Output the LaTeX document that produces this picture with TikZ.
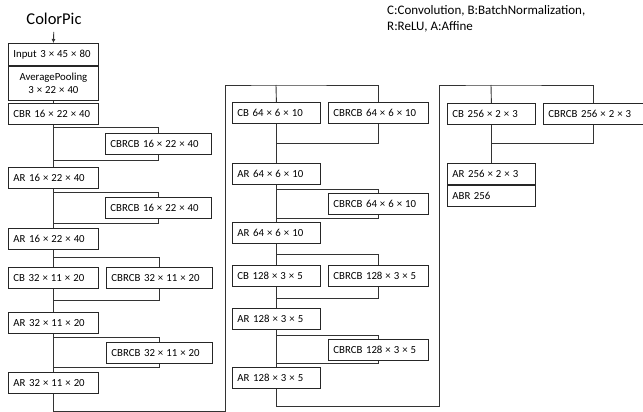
\documentclass[tikz,border=0pt]{standalone}
\usepackage{fontspec}
\setmainfont{Carlito}
\usetikzlibrary{arrows.meta}

\newcommand{\byx}{\kern3pt×\kern3pt}

\tikzset{
  block/.style={draw=black!85,line width=0.8pt,anchor=north west,align=left,
    inner xsep=5pt,inner ysep=0pt,minimum height=21pt,
    font=\fontsize{10.8}{12.5}\selectfont},
  mainblock/.style={block,text width=80pt},
  sideblock/.style={block,text width=96pt},
  wire/.style={draw=black!80,line width=0.9pt}
}

\begin{document}
\begin{tikzpicture}[x=1pt,y=-1pt]
  \useasboundingbox (0,0) rectangle (643,412);

  % title and legend
  \node[font=\fontsize{16.5}{20}\selectfont,inner sep=1pt] (title) at (54,19) {ColorPic};
  \node[anchor=north west,align=left,inner sep=0pt,
    font=\fontsize{13}{15.7}\selectfont] (legend) at (387,5.5)
    {C:Convolution, B:BatchNormalization,\\R:ReLU, A:Affine};

  % first column
  \node[mainblock,minimum height=22pt] (inp) at (8,43) {Input 3\byx45\byx80};
  \node[mainblock,align=center,minimum height=34pt] (pool) at (inp.south west)
    {AveragePooling\\3\byx22\byx40};
  \node[mainblock] (cbr1) at (8,103) {CBR 16\byx22\byx40};
  \node[sideblock] (cbrcb1) at (105,133) {CBRCB 16\byx22\byx40};
  \node[mainblock] (ar1) at (8,167) {AR 16\byx22\byx40};
  \node[sideblock] (cbrcb2) at (105,197) {CBRCB 16\byx22\byx40};
  \node[mainblock] (ar2) at (8,228) {AR 16\byx22\byx40};
  \node[mainblock] (cb32) at (8,267) {CB 32\byx11\byx20};
  \node[sideblock] (cbrcb3) at (106,267) {CBRCB 32\byx11\byx20};
  \node[mainblock] (ar3) at (8,312) {AR 32\byx11\byx20};
  \node[sideblock] (cbrcb4) at (106,342) {CBRCB 32\byx11\byx20};
  \node[mainblock] (ar4) at (8,372) {AR 32\byx11\byx20};

  \begin{scope}[mainblock/.append style={text width=78pt},
                sideblock/.append style={text width=90pt}]
    % second column
    \node[mainblock] (cb64) at (232,102) {CB 64\byx6\byx10};
    \node[sideblock] (cbrcb5) at (328,102) {CBRCB 64\byx6\byx10};
    \node[mainblock] (ar5) at (232,163) {AR 64\byx6\byx10};
    \node[sideblock] (cbrcb6) at (328,193) {CBRCB 64\byx6\byx10};
    \node[mainblock] (ar6) at (232,222) {AR 64\byx6\byx10};
    \node[mainblock] (cb128) at (232,265) {CB 128\byx3\byx5};
    \node[sideblock] (cbrcb7) at (328,265) {CBRCB 128\byx3\byx5};
    \node[mainblock] (ar7) at (232,308) {AR 128\byx3\byx5};
    \node[sideblock] (cbrcb8) at (328,339) {CBRCB 128\byx3\byx5};
    \node[mainblock] (ar8) at (232,367) {AR 128\byx3\byx5};
    % third column
    \node[mainblock] (cb256) at (447,103) {CB 256\byx2\byx3};
    \node[sideblock] (cbrcb9) at (543,103) {CBRCB 256\byx2\byx3};
    \node[mainblock] (ar9) at (447,163) {AR 256\byx2\byx3};
    \node[mainblock] (abr) at (ar9.south west) {ABR 256};
  \end{scope}

  % split and join points on the skip lines
  \coordinate (b1) at (53,127);  \coordinate (m1) at (53,160);
  \coordinate (b2) at (53,192);  \coordinate (m2) at (53,223);
  \coordinate (b3) at (53,257);  \coordinate (m3) at (53,300);
  \coordinate (b4) at (53,337);  \coordinate (m4) at (53,367);
  \coordinate (c1) at (225,411); \coordinate (t2) at (276,85);
  \coordinate (m5) at (276,143);
  \coordinate (b6) at (276,189); \coordinate (m6) at (276,218);
  \coordinate (b7) at (276,254); \coordinate (m7) at (276,298);
  \coordinate (b8) at (276,335); \coordinate (m8) at (276,363);
  \coordinate (c2) at (439,406); \coordinate (t3) at (491,85);
  \coordinate (m9) at (491,143);

  \draw[wire,-{Latex[length=4pt,width=4pt]},shorten <=6pt] (title.south) -- (inp.north);
  \draw[wire] (pool.south) -- (cbr1.north);

  % first column
  \draw[wire] (cbr1.south) -- (ar1.north);
  \draw[wire] (b1) -| (cbrcb1.north);
  \draw[wire] (cbrcb1.south) |- (m1);
  \draw[wire] (ar1.south) -- (ar2.north);
  \draw[wire] (b2) -| (cbrcb2.north);
  \draw[wire] (cbrcb2.south) |- (m2);
  \draw[wire] (ar2.south) -- (cb32.north);
  \draw[wire] (b3) -| (cbrcb3.north);
  \draw[wire] (cb32.south) -- (ar3.north);
  \draw[wire] (cbrcb3.south) |- (m3);
  \draw[wire] (ar3.south) -- (ar4.north);
  \draw[wire] (b4) -| (cbrcb4.north);
  \draw[wire] (cbrcb4.south) |- (m4);
  \draw[wire] (ar4.south) |- (c1) |- (t2) -| (cbrcb5.north);

  % second column
  \draw[wire] (t2) -- (cb64.north);
  \draw[wire] (cb64.south) -- (ar5.north);
  \draw[wire] (cbrcb5.south) |- (m5);
  \draw[wire] (ar5.south) -- (ar6.north);
  \draw[wire] (b6) -| (cbrcb6.north);
  \draw[wire] (cbrcb6.south) |- (m6);
  \draw[wire] (ar6.south) -- (cb128.north);
  \draw[wire] (b7) -| (cbrcb7.north);
  \draw[wire] (cb128.south) -- (ar7.north);
  \draw[wire] (cbrcb7.south) |- (m7);
  \draw[wire] (ar7.south) -- (ar8.north);
  \draw[wire] (b8) -| (cbrcb8.north);
  \draw[wire] (cbrcb8.south) |- (m8);
  \draw[wire] (ar8.south) |- (c2) |- (t3) -| (cbrcb9.north);

  % third column
  \draw[wire] (t3) -- (cb256.north);
  \draw[wire] (cb256.south) -- (ar9.north);
  \draw[wire] (cbrcb9.south) |- (m9);
\end{tikzpicture}
\end{document}
